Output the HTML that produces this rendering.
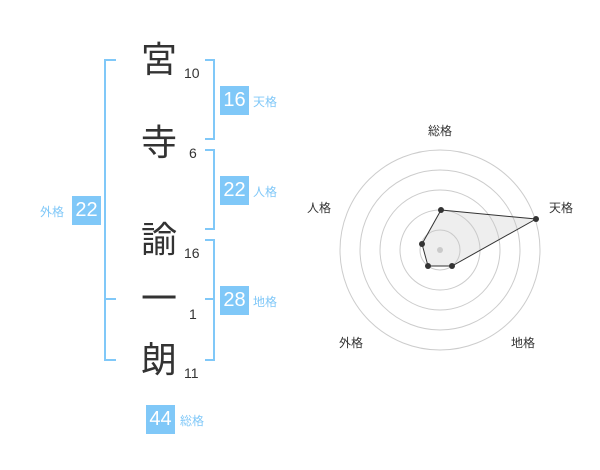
<!DOCTYPE html>
<html><head><meta charset="utf-8"><style>
body{margin:0;width:600px;height:470px;background:#fff;overflow:hidden;position:relative;font-family:"Liberation Sans","Noto Sans CJK JP",sans-serif}
.k{position:absolute;font-size:36px;color:#333;line-height:1;width:40px;text-align:center}
.n{position:absolute;font-size:14px;color:#333;line-height:1}
.b{position:absolute;background:#80c8f8;color:#fff;font-size:20px;width:29px;height:29px;line-height:29px;text-align:center}
.l{position:absolute;font-size:12px;color:#80c8f8;line-height:1}
.v{position:absolute;background:#80c8f8}
</style></head><body>
<div class="k" style="left:139px;top:42px">宮</div><div class="n" style="left:184px;top:66px">10</div>
<div class="k" style="left:139px;top:125px">寺</div><div class="n" style="left:189px;top:146px">6</div>
<div class="k" style="left:139px;top:222px">諭</div><div class="n" style="left:184px;top:246px">16</div>
<div class="k" style="left:139px;top:281px">一</div><div class="n" style="left:189px;top:307px">1</div>
<div class="k" style="left:139px;top:342px">朗</div><div class="n" style="left:184px;top:366px">11</div>
<!-- left bracket -->
<div class="v" style="left:104px;top:59px;width:2px;height:302px"></div>
<div class="v" style="left:104px;top:59px;width:12px;height:2px"></div>
<div class="v" style="left:104px;top:298px;width:12px;height:2px"></div>
<div class="v" style="left:104px;top:359px;width:12px;height:2px"></div>
<!-- right brackets -->
<div class="v" style="left:213px;top:59px;width:2px;height:81px"></div>
<div class="v" style="left:205px;top:59px;width:10px;height:2px"></div>
<div class="v" style="left:205px;top:138px;width:10px;height:2px"></div>
<div class="v" style="left:213px;top:149px;width:2px;height:81px"></div>
<div class="v" style="left:205px;top:149px;width:10px;height:2px"></div>
<div class="v" style="left:205px;top:228px;width:10px;height:2px"></div>
<div class="v" style="left:213px;top:239px;width:2px;height:122px"></div>
<div class="v" style="left:205px;top:239px;width:10px;height:2px"></div>
<div class="v" style="left:205px;top:298px;width:10px;height:2px"></div>
<div class="v" style="left:205px;top:359px;width:10px;height:2px"></div>
<div class="b" style="left:220px;top:86px">16</div><div class="l" style="left:253px;top:96px">天格</div>
<div class="b" style="left:220px;top:176px">22</div><div class="l" style="left:253px;top:186px">人格</div>
<div class="b" style="left:220px;top:286px">28</div><div class="l" style="left:253px;top:296px">地格</div>
<div class="b" style="left:72px;top:196px">22</div><div class="l" style="left:40px;top:206px">外格</div>
<div class="b" style="left:146px;top:405px">44</div><div class="l" style="left:180px;top:415px">総格</div>
<svg style="position:absolute;left:0;top:0" width="600" height="470">
<g fill="none" stroke="#ccc" stroke-width="1">
<circle cx="440" cy="250" r="20"/><circle cx="440" cy="250" r="40"/><circle cx="440" cy="250" r="60"/><circle cx="440" cy="250" r="80"/><circle cx="440" cy="250" r="100"/>
</g>
<circle cx="440" cy="250" r="3" fill="#ccc"/>
<polygon points="441,210 536,219 452,266 428,266 422,244" fill="rgba(200,200,200,0.3)" stroke="#333" stroke-width="1"/>
<g fill="#333"><circle cx="441" cy="210" r="3"/><circle cx="536" cy="219" r="3"/><circle cx="452" cy="266" r="3"/><circle cx="428" cy="266" r="3"/><circle cx="422" cy="244" r="3"/></g>
<g font-size="12" fill="#333" font-family="Liberation Sans,Noto Sans CJK JP,sans-serif">
<text x="428" y="135">総格</text><text x="549" y="212">天格</text><text x="307" y="212">人格</text>
<text x="339" y="347">外格</text><text x="511" y="347">地格</text></g>
</svg>
</body></html>
